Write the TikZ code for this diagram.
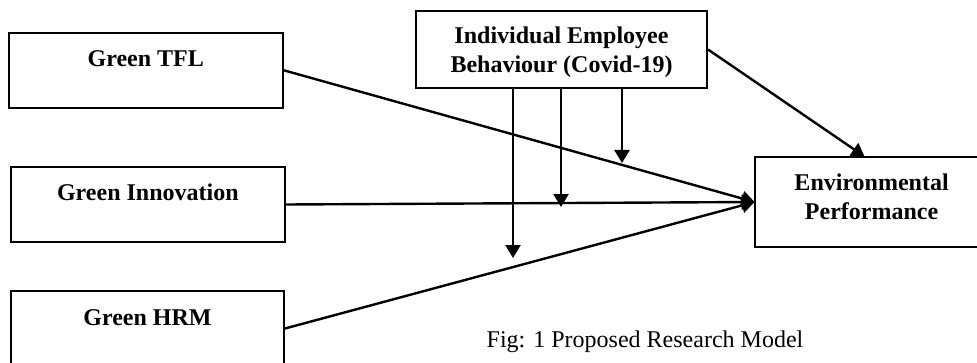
\documentclass[tikz,border=0pt]{standalone}
\usepackage{fontspec}
\setmainfont{Liberation Serif}
\usetikzlibrary{arrows.meta,calc}
\begin{document}
\begin{tikzpicture}[x=0.5pt,y=-0.5pt,
  box/.style={draw,line width=1pt,inner sep=0pt},
  frame/.style={line width=1pt},
  lbl/.style={font=\fontsize{12}{14.5}\selectfont\bfseries,align=center,inner sep=0pt},
  link/.style={line width=1.2pt,-{Triangle[length=6.5pt,width=7.5pt]}}]
  \useasboundingbox (0,0) rectangle (977,363);
  \fill[white] (0,0) rectangle (977,363);
  \clip (0,0) rectangle (977,363);

  % constructs
  \node[box,minimum width=137.25pt,minimum height=37.65pt] (tfl) at (145.75,70.35) {};
  \node[box,minimum width=137.15pt,minimum height=37.5pt] (inn) at (147.85,204.5) {};
  \node[box,minimum width=136.5pt,minimum height=37.5pt] (hrm) at (147.5,328.5) {};
  \node[box,minimum width=145.5pt,minimum height=38.5pt] (ieb) at (561.5,49.5) {};
  % outcome box runs off the right edge, so only three sides are drawn
  \node[inner sep=0pt,minimum width=140pt,minimum height=45pt] (env) at (895,202) {};
  \draw[frame] ([xshift=30pt]env.north east) -- (env.north west)
    -- (env.south west) -- ([xshift=30pt]env.south east);

  % box titles
  \node[lbl,anchor=base] (tflL) at ($(tfl.center)+(0,-3.6)$) {Green TFL};
  \node[lbl,anchor=base] (innL) at ($(inn.center)+(0,-4.5)$) {Green Innovation};
  \node[lbl,anchor=base] (hrmL) at ($(hrm.center)+(0,-3.5)$) {Green HRM};
  \node[lbl] (iebL) at ($(ieb.center)+(0,2.5)$) {Individual Employee\\Behaviour (Covid-19)};
  \node[lbl] (envL) at ($(env.west)+(117,-5.5)$) {Environmental\\Performance};

  % direct effects
  \draw[link] (tfl.east) -- (env.west);
  \draw[link] (inn.east) -- (env.west);
  \draw[link] (hrm.east) -- (env.west);
  \draw[link] (ieb.east) -- ([xshift=55pt]env.north west);

  % moderating effects
  \coordinate (m1) at (513,258);
  \coordinate (m2) at (561,207);
  \coordinate (m3) at (622,163);
  \draw[link] (m1 |- ieb.south) -- (m1);
  \draw[link] (m2 |- ieb.south) -- (m2);
  \draw[link] (m3 |- ieb.south) -- (m3);

  % caption
  \node[anchor=base,inner sep=0pt,font=\fontsize{12}{14}\selectfont] (cap) at (645,347) {Fig: 1 Proposed Research Model};
\end{tikzpicture}
\end{document}
